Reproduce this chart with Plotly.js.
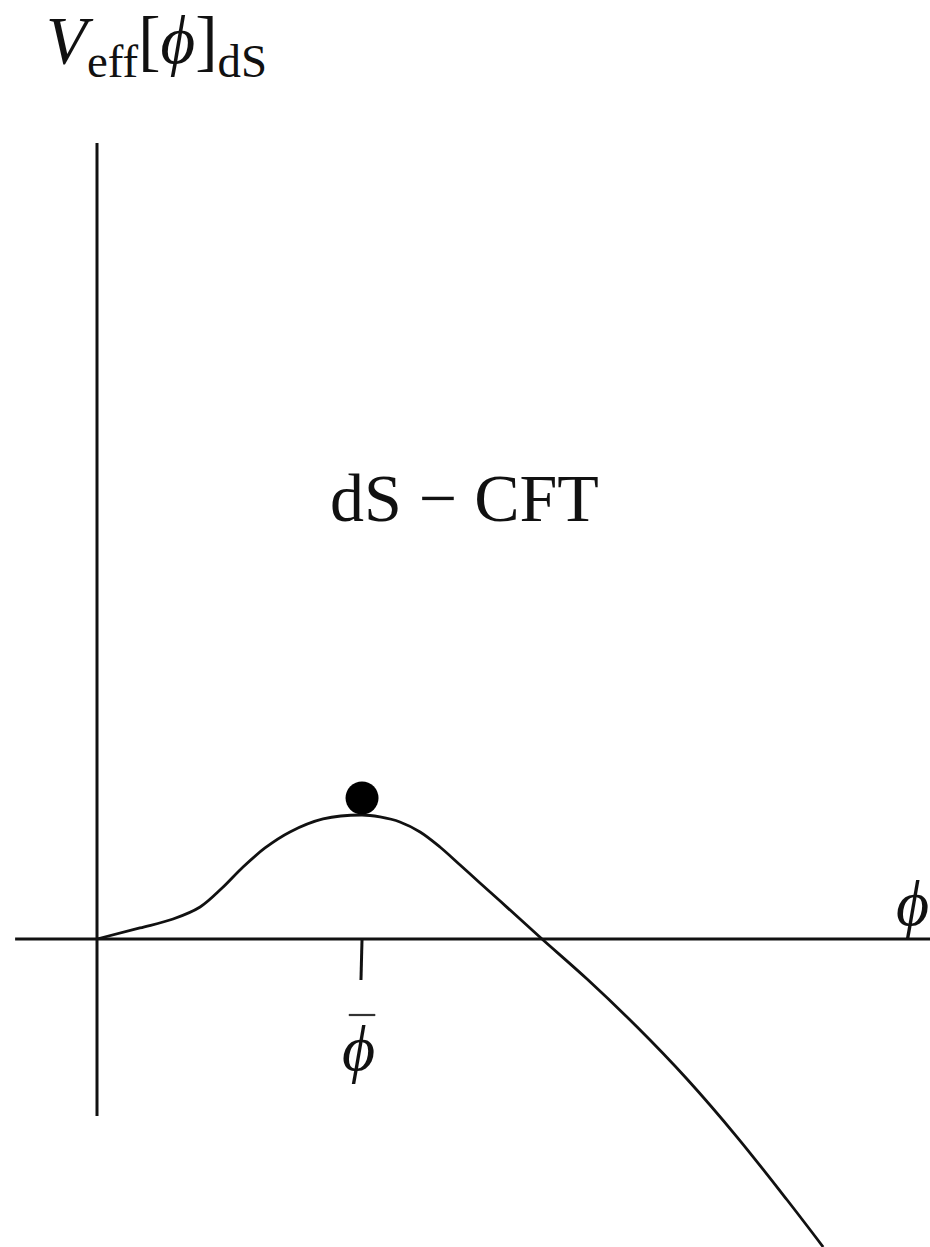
<!DOCTYPE html>
<html>
<head>
<meta charset="utf-8">
<script src="https://cdn.plot.ly/plotly-3.0.1.min.js"></script>
<style>
  html, body { margin: 0; padding: 0; background: #fff; }
  #chart { width: 930px; height: 1247px; }
</style>
</head>
<body>
<div id="chart"></div>
<script>
// Sketch of the effective potential V_eff[phi]_dS, in units where the
// maximum sits at phi = 1 with height 1.
const phiValues = [0, 0.162, 0.287, 0.389, 0.472, 0.551, 0.634, 0.728, 0.853, 1.0,
                   1.068, 1.143, 1.219, 1.294, 1.370, 1.445, 1.521, 1.596, 1.679,
                   1.849, 2.038, 2.226, 2.415, 2.604, 2.740];
const potentialValues = [0, 0.089, 0.161, 0.258, 0.411, 0.581, 0.734, 0.863, 0.968, 1.0,
                         0.984, 0.944, 0.863, 0.742, 0.597, 0.452, 0.306, 0.161, 0.0,
                         -0.323, -0.710, -1.129, -1.597, -2.105, -2.484];

// the dS-CFT point resting on top of the hill
const phiBar = 1.0;
const pointHeight = 1.137;

// extents of the drawn axes
const phiAxisSpan = [-0.309, 3.143];
const potentialAxisSpan = [-1.427, 6.419];
const tickDepth = -0.33;

const ink = '#111';
const serif = 'Liberation Serif, DejaVu Serif, serif';

const traces = [
  {
    x: phiValues, y: potentialValues, type: 'scatter', mode: 'lines',
    line: { color: ink, width: 2.8, shape: 'spline', smoothing: 1 },
    hoverinfo: 'skip', showlegend: false
  },
  {
    x: [phiBar], y: [pointHeight], type: 'scatter', mode: 'markers',
    marker: { color: '#000', size: 33 },
    hoverinfo: 'skip', showlegend: false
  }
];

const layout = {
  width: 930, height: 1247,
  margin: { l: 0, r: 0, t: 0, b: 0 },
  paper_bgcolor: '#fff', plot_bgcolor: '#fff',
  showlegend: false,
  xaxis: { range: [-0.366, 3.143], visible: false, fixedrange: true },
  yaxis: { range: [-2.484, 7.573], visible: false, fixedrange: true },
  shapes: [
    // phi axis
    { type: 'line', xref: 'x', yref: 'y', x0: phiAxisSpan[0], x1: phiAxisSpan[1], y0: 0, y1: 0,
      line: { color: ink, width: 3 } },
    // potential axis
    { type: 'line', xref: 'x', yref: 'y', x0: 0, x1: 0, y0: potentialAxisSpan[0], y1: potentialAxisSpan[1],
      line: { color: ink, width: 3 } },
    // tick under the maximum
    { type: 'line', xref: 'x', yref: 'y', x0: phiBar, x1: phiBar - 0.004, y0: 0, y1: tickDepth,
      line: { color: ink, width: 3 } },
    // bar over the phi label
    { type: 'line', xref: 'x', yref: 'paper', x0: phiBar - 0.05, x1: phiBar + 0.05,
      y0: 1 - 1015 / 1247, y1: 1 - 1015 / 1247,
      line: { color: '#333', width: 2.2 } }
  ],
  annotations: [
    { xref: 'paper', yref: 'paper', x: 44 / 930, y: 1 - 45 / 1247, xanchor: 'left', yanchor: 'middle',
      text: '<i>V</i><sub>eff</sub>[<i>ϕ</i>]<sub>dS</sub>', showarrow: false,
      font: { family: serif, size: 67, color: ink } },
    { xref: 'paper', yref: 'paper', x: 464 / 930, y: 1 - 498 / 1247, xanchor: 'center', yanchor: 'middle',
      text: 'dS − CFT', showarrow: false,
      font: { family: serif, size: 68, color: ink } },
    { xref: 'paper', yref: 'paper', x: 912 / 930, y: 1 - 903 / 1247, xanchor: 'center', yanchor: 'middle',
      text: '<i>ϕ</i>', showarrow: false,
      font: { family: serif, size: 64, color: ink } },
    { xref: 'x', yref: 'paper', x: phiBar - 0.012, y: 1 - 1048 / 1247, xanchor: 'center', yanchor: 'middle',
      text: '<i>ϕ</i>', showarrow: false,
      font: { family: serif, size: 64, color: ink } }
  ]
};

Plotly.newPlot('chart', traces, layout, { displayModeBar: false, staticPlot: true });
</script>
</body>
</html>
